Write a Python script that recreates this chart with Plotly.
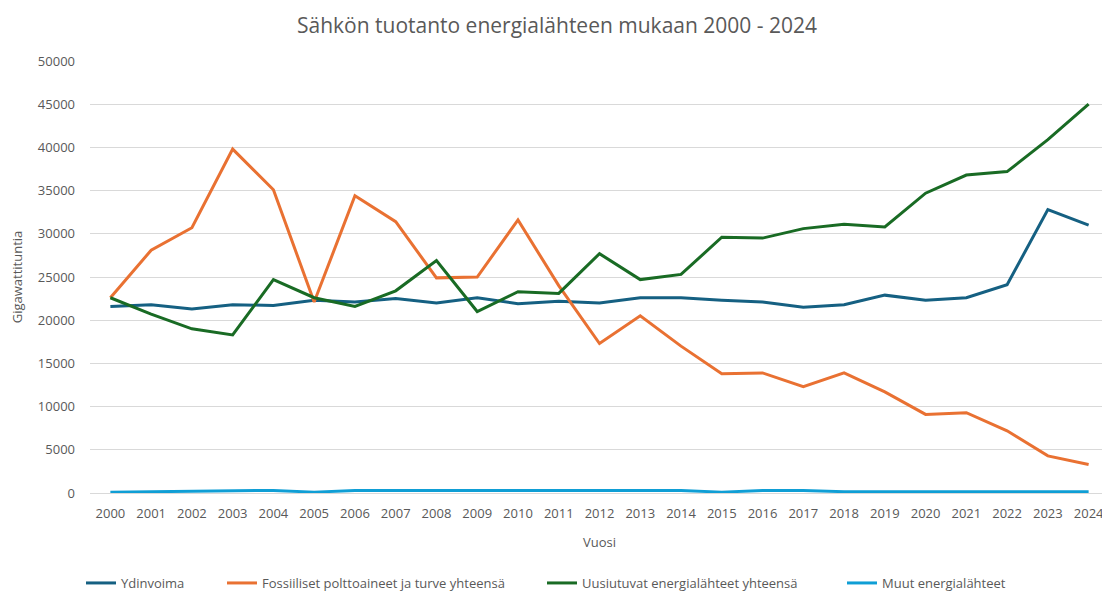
import plotly.graph_objects as go

years = [str(y) for y in range(2000, 2025)]
ydinvoima = [21600, 21800, 21300, 21800, 21700, 22300, 22100, 22500, 22000, 22600,
             21900, 22200, 22000, 22600, 22600, 22300, 22100, 21500, 21800, 22900,
             22300, 22600, 24100, 32800, 31000]
fossiiliset = [22600, 28100, 30700, 39800, 35100, 22100, 34400, 31400, 24900, 25000,
               31600, 24000, 17300, 20500, 17000, 13800, 13900, 12300, 13900, 11700,
               9100, 9300, 7200, 4300, 3300]
uusiutuvat = [22600, 20700, 19000, 18300, 24700, 22600, 21600, 23400, 26900, 21000,
              23300, 23100, 27700, 24700, 25300, 29600, 29500, 30600, 31100, 30800,
              34700, 36800, 37200, 40900, 45000]
muut = [100, 150, 200, 300, 300, 100, 300, 300, 300, 300,
        300, 300, 300, 300, 300, 100, 300, 300, 150, 150,
        150, 150, 150, 150, 150]

series = [
    ("Ydinvoima", ydinvoima, "#156082", "legend"),
    ("Fossiiliset polttoaineet ja turve yhteensä", fossiiliset, "#E97132", "legend2"),
    ("Uusiutuvat energialähteet yhteensä", uusiutuvat, "#196B24", "legend3"),
    ("Muut energialähteet", muut, "#0F9ED5", "legend4"),
]

FONT = "Open Sans"
GREY = "#595959"
OFF = 8  # page body margin
W, H = 1110 - OFF, 594 - OFF
ML, MR, MT, MB = 90 - OFF, 1, 61 - OFF, 101
PW, PH = W - ML - MR, H - MT - MB

fig = go.Figure()
for name, vals, color, lg in series:
    fig.add_trace(go.Scatter(x=years, y=vals, mode="lines", name=name,
                             line=dict(color=color, width=3), legend=lg))

leg_common = dict(orientation="h", yanchor="middle", xanchor="left",
                  font=dict(family=FONT, size=13, color=GREY),
                  bgcolor="rgba(0,0,0,0)", borderwidth=0, itemwidth=30)
legx = [73, 214, 534, 834]  # figure coords
fig.update_layout(
    width=W, height=H,
    margin=dict(l=ML, r=MR, t=MT, b=MB, autoexpand=False),
    paper_bgcolor="white", plot_bgcolor="white",
    font=dict(family=FONT, color=GREY, size=13),
    title=dict(text="Sähkön tuotanto energialähteen mukaan 2000 - 2024",
               x=(557 - OFF) / W, xanchor="center", y=1 - 18 / H, yanchor="middle",
               font=dict(family=FONT, size=21, color=GREY)),
    xaxis=dict(type="category", range=[-0.5, 24.5], showgrid=False, showline=True,
               linecolor="#D9D9D9", linewidth=1, ticks="", ticklabelstandoff=8,
               tickfont=dict(size=13, color=GREY), automargin=False,
               title=dict(text="Vuosi", font=dict(size=13, color=GREY), standoff=17)),
    yaxis=dict(range=[0, 50000], dtick=5000, showgrid=True, gridcolor="#D9D9D9",
               gridwidth=1, zeroline=False, showline=False, ticks="", automargin=False,
               tickformat="d", tickfont=dict(size=13, color=GREY), ticklabelstandoff=14,
               title=dict(text="Gigawattituntia", font=dict(size=13, color=GREY), standoff=22)),
    showlegend=True,
)
for i, lg in enumerate(["legend", "legend2", "legend3", "legend4"]):
    fig.update_layout({lg: dict(leg_common, x=(legx[i] - ML) / PW, y=(H - 575 - MB) / PH)})

fig.write_html("out.html")
